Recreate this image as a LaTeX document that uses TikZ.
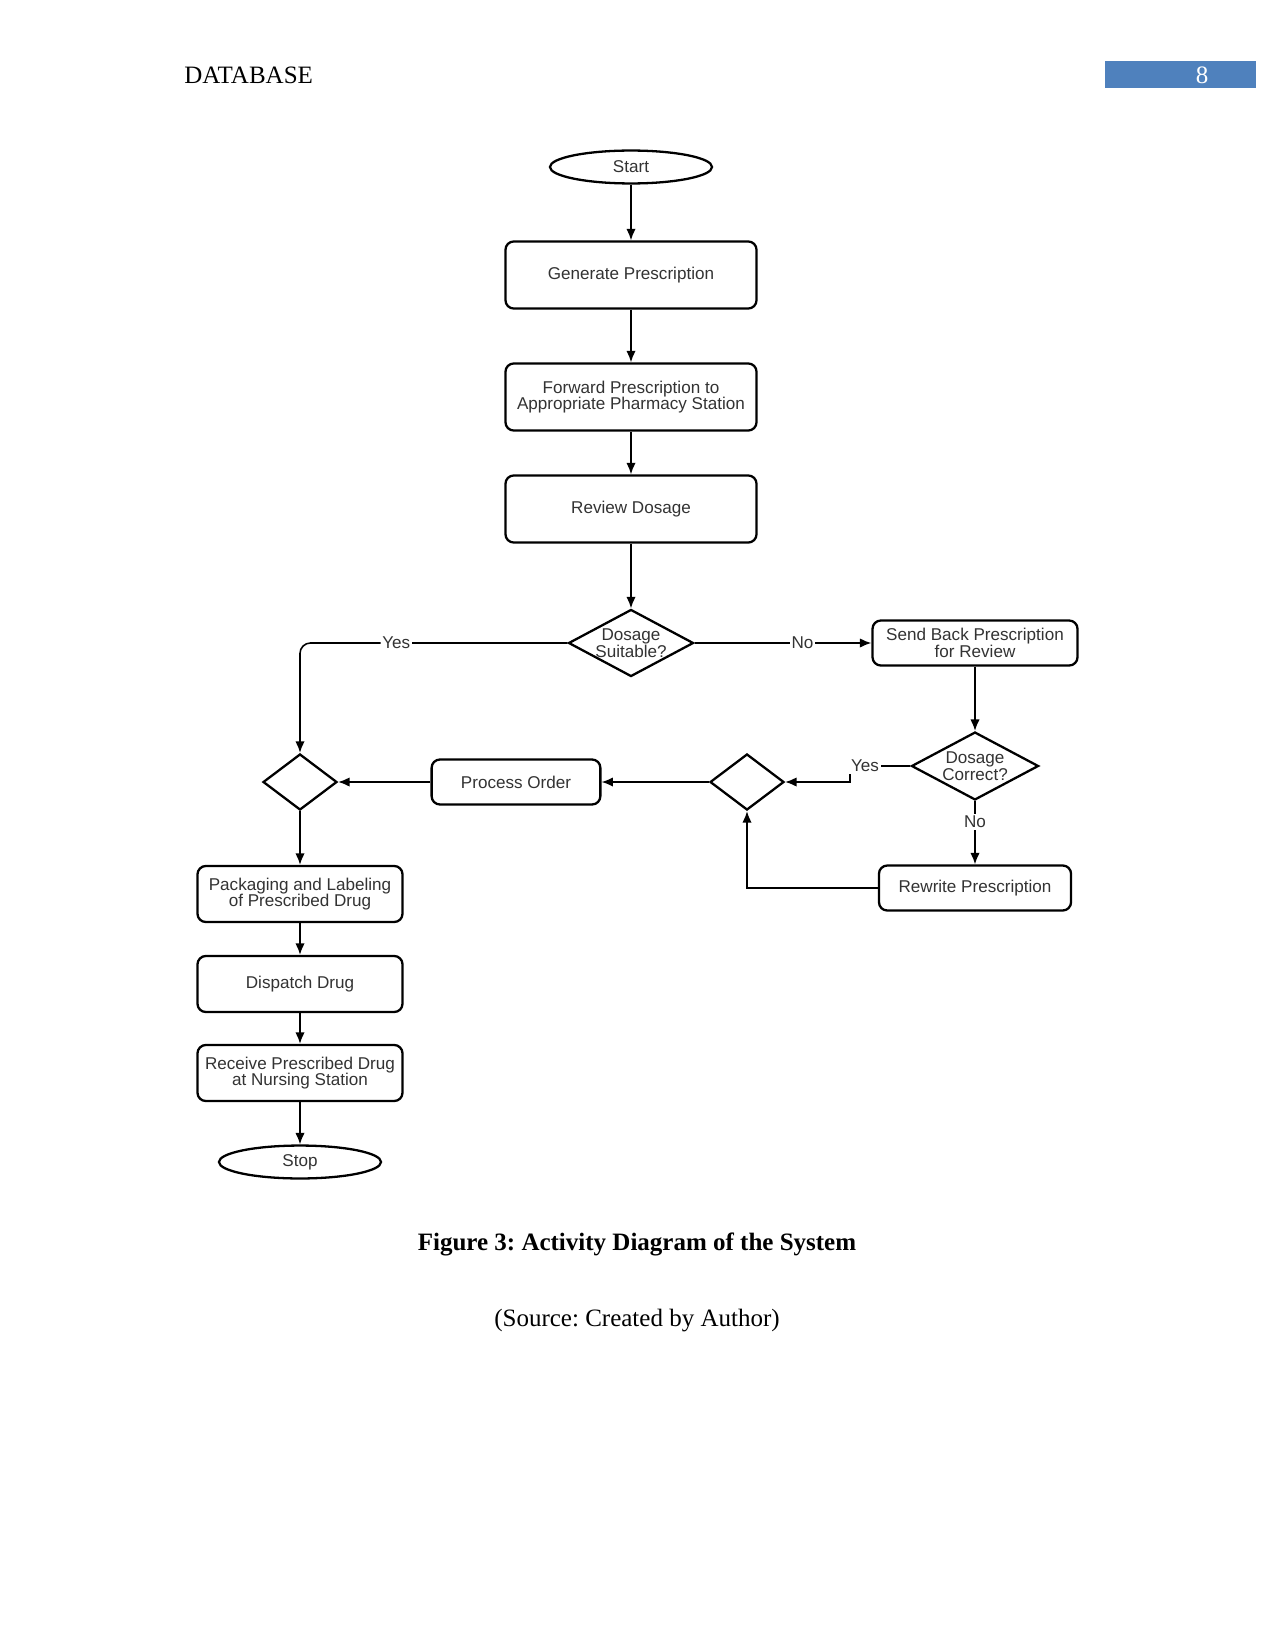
\documentclass[tikz,border=0pt]{standalone}
\usepackage{fontspec}
\setmainfont{Liberation Serif}
\newfontfamily\diagfont{Liberation Sans}
\usetikzlibrary{shapes.geometric,arrows.meta,calc}
\definecolor{hdrblue}{HTML}{4F81BD}
\definecolor{txtgray}{HTML}{333333}
\frenchspacing
\begin{document}
\begin{tikzpicture}[x=0.48pt,y=-0.48pt,
  dfont/.style={font=\diagfont\fontsize{8.2}{8}\selectfont, text=txtgray},
  procbox/.style={draw, line width=1.1pt, rounded corners=4pt, align=center, inner sep=1pt, dfont},
  termnode/.style={draw, ellipse, line width=1.1pt, inner sep=0pt, dfont},
  decnode/.style={draw, diamond, line width=1.1pt, inner sep=0pt},
  dectext/.style={label={[dfont, align=center]center:#1}},
  arr/.style={line width=0.75pt, -{Latex[length=5.5pt,width=4.5pt]}},
  lbl/.style={fill=white, inner sep=0.8pt, dfont}]

\path[use as bounding box] (0,0) rectangle (1275,1651);

% header
\node[anchor=west, font=\fontsize{12}{14}\selectfont] (hdr) at (177,75) {DATABASE};
\node[fill=hdrblue, minimum width=72.5pt, minimum height=13pt, anchor=north west, inner sep=0pt] (pg) at (1105,61) {};
\node[text=white, font=\fontsize{12}{14}\selectfont] (pgnum) at (1202,75) {8};

% nodes
\node[termnode, minimum width=77.8pt, minimum height=15.8pt] (start) at (631,167) {Start};
\node[procbox, minimum width=120.5pt, minimum height=32.2pt] (gen) at (631,275) {Generate Prescription};
\node[procbox, minimum width=120.5pt, minimum height=32.2pt] (fwd) at (631,397) {Forward Prescription to\\Appropriate Pharmacy Station};
\node[procbox, minimum width=120.5pt, minimum height=32.2pt] (rev) at (631,509) {Review Dosage};
\node[decnode, minimum width=60pt, minimum height=32.2pt, dectext={Dosage\\Suitable?}] (ds) at (631,643) {};
\node[procbox, minimum width=98.4pt, minimum height=21.6pt] (sb) at (975,643) {Send Back Prescription\\for Review};
\node[decnode, minimum width=61pt, minimum height=32.6pt, dectext={Dosage\\Correct?}] (dc) at (975,766) {};
\node[procbox, minimum width=92.2pt, minimum height=21.6pt] (rw) at (975,888) {Rewrite Prescription};
\node[decnode, minimum width=35.5pt, minimum height=26.9pt] (md) at (747,782) {};
\node[procbox, minimum width=81pt, minimum height=21.6pt] (po) at (516,782) {Process Order};
\node[decnode, minimum width=35.5pt, minimum height=26.9pt] (ld) at (300,782) {};
\node[procbox, minimum width=98.4pt, minimum height=26.9pt] (pk) at (300,894) {Packaging and Labeling\\of Prescribed Drug};
\node[procbox, minimum width=98.4pt, minimum height=26.9pt] (dd) at (300,984) {Dispatch Drug};
\node[procbox, minimum width=98.4pt, minimum height=26.9pt] (rc) at (300,1073) {Receive Prescribed Drug\\at Nursing Station};
\node[termnode, minimum width=77.8pt, minimum height=15.8pt] (stop) at (300,1162) {Stop};
\coordinate (yc) at (850,0);

% connectors
\draw[arr] (start) -- (gen);
\draw[arr] (gen) -- (fwd);
\draw[arr] (fwd) -- (rev);
\draw[arr] (rev) -- (ds);
\draw[arr, rounded corners=5pt] (ds.west) -| node[lbl, pos=0.32]{Yes} (ld.north);
\draw[arr] (ds.east) -- node[lbl, pos=0.61]{No} (sb.west);
\draw[arr] (sb) -- (dc);
\draw[arr] (dc.west) -- node[lbl, pos=0.75]{Yes} (dc.west -| yc) |- (md.east);
\draw[arr] (dc) -- node[lbl, pos=0.33]{No} (rw);
\draw[arr] (rw.west) -| (md.south);
\draw[arr] (md.west) -- (po.east);
\draw[arr] (po.west) -- (ld.east);
\draw[arr] (ld) -- (pk);
\draw[arr] (pk) -- (dd);
\draw[arr] (dd) -- (rc);
\draw[arr] (rc) -- (stop);

% caption
\node[font=\bfseries\fontsize{12}{14}\selectfont] (cap) at (637,1244) {Figure 3: Activity Diagram of the System};
\node[font=\fontsize{12}{14}\selectfont] (src) at (637,1321) {(Source: Created by Author)};
\end{tikzpicture}
\end{document}
